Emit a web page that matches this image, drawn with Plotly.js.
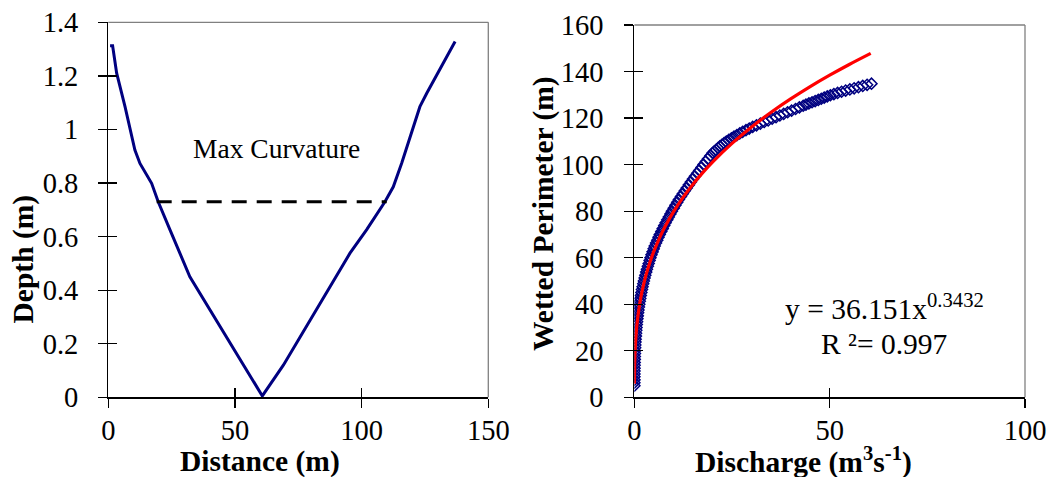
<!DOCTYPE html>
<html>
<head>
<meta charset="utf-8">
<script src="https://cdn.plot.ly/plotly-3.0.1.min.js"></script>
<style>
  html, body { margin: 0; padding: 0; background: #ffffff; }
  #chart { width: 1053px; height: 477px; }
</style>
</head>
<body>
<div id="chart"></div>
<script>
// ---- Left panel: channel cross-section ----
const distance = [0.7, 1.7, 3.3, 6.6, 10.5, 12.5, 17.1, 19.7, 24.4, 32.2, 60.8, 69.1, 95.4, 102.0, 109.2, 112.5, 115.8, 120.4, 123.0, 125.7, 136.9];
const depth    = [1.312, 1.312, 1.21, 1.085, 0.923, 0.873, 0.799, 0.730, 0.624, 0.450, 0.005, 0.120, 0.538, 0.626, 0.730, 0.786, 0.874, 1.010, 1.085, 1.135, 1.328];

const maxCurvatureDistance = [19.1, 109.9];
const maxCurvatureDepth = [0.73, 0.73];
const maxCurvatureLabel = "Max Curvature";

const leftXTicks = [0, 50, 100, 150];
const leftYTicks = [0, 0.2, 0.4, 0.6, 0.8, 1, 1.2, 1.4];
const leftYTickText = ["0", "0.2", "0.4", "0.6", "0.8", "1", "1.2", "1.4"];

// ---- Right panel: wetted perimeter vs discharge ----
const discharge = [
  0.003, 0.006, 0.01, 0.015, 0.022, 0.032, 0.043, 0.057, 0.073, 0.093,
  0.115, 0.141, 0.169, 0.203, 0.238, 0.281, 0.324, 0.376, 0.428, 0.49,
  0.55, 0.62, 0.69, 0.78, 0.86, 0.96, 1.05, 1.16, 1.27, 1.39,
  1.51, 1.65, 1.79, 1.94, 2.09, 2.26, 2.43, 2.62, 2.8, 3.01,
  3.21, 3.44, 3.66, 3.9, 4.12, 4.38, 4.65, 4.93, 5.2, 5.54,
  5.86, 6.18, 6.5, 6.89, 7.25, 7.64, 8.0, 8.42, 8.8, 9.22,
  9.6, 10.07, 10.5, 10.97, 11.4, 11.92, 12.4, 12.92, 13.4, 13.95,
  14.45, 15.0, 15.5, 16.07, 16.6, 17.17, 17.7, 18.3, 18.85, 19.45,
  20.0,
  20.47, 20.93, 21.40, 21.87, 22.40, 22.96, 23.52, 24.17, 24.84, 25.50,
  26.24, 26.97, 27.72, 28.56, 29.40, 30.28, 31.26, 32.24, 33.24, 34.25,
  35.27, 36.26, 37.24, 38.22, 39.23, 40.24, 41.26, 42.24, 43.22,
  43.92, 44.68, 45.48, 46.28, 47.08, 47.85, 48.60, 49.38, 50.18, 51.07,
  52.02, 53.03, 54.08, 55.16, 56.26, 57.36, 58.46, 59.58, 60.70
];
const wettedPerimeter = [
  5, 6.3, 7.5, 8.8, 10, 11.3, 12.5, 13.8, 15, 16.3,
  17.5, 18.8, 20, 21.3, 22.5, 23.8, 25, 26.3, 27.5, 28.8,
  30, 31.3, 32.5, 33.8, 35, 36.3, 37.5, 38.8, 40, 41.3,
  42.5, 43.8, 45, 46.3, 47.5, 48.8, 50, 51.3, 52.5, 53.8,
  55, 56.3, 57.5, 58.8, 60, 61.3, 62.5, 63.8, 65, 66.3,
  67.5, 68.8, 70, 71.3, 72.5, 73.8, 75, 76.3, 77.5, 78.8,
  80, 81.3, 82.5, 83.8, 85, 86.3, 87.5, 88.8, 90, 91.3,
  92.5, 93.8, 95, 96.3, 97.5, 98.8, 100, 101.3, 102.5, 103.8,
  105,
  105.7, 106.4, 107.1, 107.8, 108.5, 109.2, 109.9, 110.6, 111.3, 112.0,
  112.7, 113.4, 114.1, 114.8, 115.5, 116.2, 116.9, 117.6, 118.3, 119.0,
  119.7, 120.4, 121.1, 121.8, 122.5, 123.2, 123.9, 124.6, 125.3,
  125.8, 126.3, 126.8, 127.3, 127.8, 128.3, 128.8, 129.3, 129.8, 130.3,
  130.8, 131.3, 131.8, 132.3, 132.8, 133.3, 133.8, 134.3, 134.8
];

const fitDischarge = [0.005, 0.01, 0.02, 0.05, 0.1, 0.2, 0.35, 0.5, 0.75, 1, 1.5, 2, 3, 4, 5, 6.5, 8, 10, 12.5, 15, 17.5, 20, 25, 30, 35, 40, 45, 50, 55, 60.5];
const fitPerimeter = [5.87, 7.44, 9.44, 12.93, 16.40, 20.81, 25.22, 28.50, 32.75, 36.15, 41.55, 45.86, 52.71, 58.18, 62.81, 68.73, 73.81, 79.68, 86.02, 91.57, 96.55, 101.08, 109.11, 116.16, 122.48, 128.22, 133.52, 138.43, 143.03, 147.80];

const equationText = "y = 36.151x<sup>0.3432</sup>";
const r2Text = "R \u00B2= 0.997";

const rightXTicks = [0, 50, 100];
const rightYTicks = [0, 20, 40, 60, 80, 100, 120, 140, 160];

// ---- styling ----
const FONT = "Liberation Serif, Times New Roman, serif";
const NAVY = "#000080";
const TICKFONT = { family: FONT, size: 28.5, color: "#000000" };
const TITLEFONT = { family: FONT, size: 29.5, color: "#000000" };

function baseAxis(extra) {
  return Object.assign({
    showgrid: false, zeroline: false,
    showline: true, linecolor: "#000000", linewidth: 1.3,
    ticks: "outside", ticklen: 9, tickwidth: 1.3, tickcolor: "#000000",
    tickfont: TICKFONT, fixedrange: true
  }, extra);
}
function innerAxis(extra) {
  return Object.assign({
    showgrid: false, zeroline: false, showline: false,
    ticks: "inside", ticklen: 9, tickwidth: 1.3, tickcolor: "#000000",
    showticklabels: false, fixedrange: true
  }, extra);
}

const traces = [
  { x: distance, y: depth, xaxis: "x", yaxis: "y", type: "scatter", mode: "lines",
    line: { color: NAVY, width: 3 }, hoverinfo: "skip", showlegend: false },
  { x: maxCurvatureDistance, y: maxCurvatureDepth, xaxis: "x", yaxis: "y", type: "scatter", mode: "lines",
    line: { color: "#000000", width: 3, dash: "15px,10px" }, hoverinfo: "skip", showlegend: false },
  { x: discharge, y: wettedPerimeter, xaxis: "x2", yaxis: "y2", type: "scatter", mode: "markers",
    marker: { symbol: "diamond-open", size: 8.5, color: NAVY, line: { color: NAVY, width: 1.5 } },
    hoverinfo: "skip", showlegend: false },
  { x: fitDischarge, y: fitPerimeter, xaxis: "x2", yaxis: "y2", type: "scatter", mode: "lines",
    line: { color: "#ff0000", width: 3.2, shape: "spline" }, hoverinfo: "skip", showlegend: false },
  // carriers for the inside-tick overlay axes
  { x: [null], y: [null], xaxis: "x3", yaxis: "y3", type: "scatter", mode: "markers", hoverinfo: "skip", showlegend: false },
  { x: [null], y: [null], xaxis: "x4", yaxis: "y4", type: "scatter", mode: "markers", hoverinfo: "skip", showlegend: false }
];

const L = { x0: 108.3 / 1053, x1: 488.3 / 1053, y0: (477 - 397.3) / 477, y1: (477 - 22.3) / 477 };
const R = { x0: 634.4 / 1053, x1: 1025 / 1053, y0: (477 - 397.3) / 477, y1: (477 - 25) / 477 };

const layout = {
  width: 1053, height: 477,
  margin: { l: 0, r: 0, t: 0, b: 0 },
  paper_bgcolor: "#ffffff", plot_bgcolor: "#ffffff",
  showlegend: false,
  font: { family: FONT, color: "#000000" },
  xaxis: baseAxis({ domain: [L.x0, L.x1], range: [0, 150], anchor: "y", tickmode: "array", tickvals: leftXTicks, ticklabelstandoff: -2 }),
  yaxis: baseAxis({ domain: [L.y0, L.y1], range: [0, 1.4], anchor: "x", tickmode: "array", tickvals: leftYTicks, ticktext: leftYTickText, ticklabelstandoff: 14 }),
  xaxis2: baseAxis({ domain: [R.x0, R.x1], range: [0, 100], anchor: "y2", tickmode: "array", tickvals: rightXTicks, ticklabelstandoff: -2 }),
  yaxis2: baseAxis({ domain: [R.y0, R.y1], range: [0, 160], anchor: "x2", tickmode: "array", tickvals: rightYTicks, ticklabelstandoff: 15 }),
  xaxis3: innerAxis({ overlaying: "x", anchor: "y", range: [0, 150], tickmode: "array", tickvals: leftXTicks, side: "bottom" }),
  yaxis3: innerAxis({ overlaying: "y", anchor: "x", range: [0, 1.4], tickmode: "array", tickvals: leftYTicks, side: "left" }),
  xaxis4: innerAxis({ overlaying: "x2", anchor: "y2", range: [0, 100], tickmode: "array", tickvals: rightXTicks, side: "bottom" }),
  yaxis4: innerAxis({ overlaying: "y2", anchor: "x2", range: [0, 160], tickmode: "array", tickvals: rightYTicks, side: "left" }),
  shapes: [
    { type: "line", xref: "x domain", yref: "y domain", x0: 0, x1: 1, y0: 1, y1: 1, line: { color: "#808080", width: 1.3 } },
    { type: "line", xref: "x domain", yref: "y domain", x0: 1, x1: 1, y0: 0, y1: 1, line: { color: "#808080", width: 1.3 } },
    { type: "line", xref: "x2 domain", yref: "y2 domain", x0: 0, x1: 1, y0: 1, y1: 1, line: { color: "#808080", width: 1.3 } },
    { type: "line", xref: "x2 domain", yref: "y2 domain", x0: 1, x1: 1, y0: 0, y1: 1, line: { color: "#808080", width: 1.3 } }
  ],
  annotations: [
    { text: "<b>Depth (m)</b>", xref: "paper", yref: "paper", x: 22.5 / 1053, y: (477 - 259) / 477,
      xanchor: "center", yanchor: "middle", textangle: -90, showarrow: false, font: TITLEFONT },
    { text: "<b>Distance (m)</b>", xref: "paper", yref: "paper", x: 260 / 1053, y: (477 - 461.5) / 477,
      xanchor: "center", yanchor: "middle", showarrow: false, font: TITLEFONT },
    { text: "<b>Wetted Perimeter (m)</b>", xref: "paper", yref: "paper", x: 543 / 1053, y: (477 - 214) / 477,
      xanchor: "center", yanchor: "middle", textangle: -90, showarrow: false, font: TITLEFONT },
    { text: "<b>Discharge (m<sup>3</sup>s<sup>-1</sup>)</b>", xref: "paper", yref: "paper", x: 803.5 / 1053, y: (477 - 460) / 477,
      xanchor: "center", yanchor: "middle", showarrow: false, font: TITLEFONT },
    { text: maxCurvatureLabel, xref: "x", yref: "y", x: 66.4, y: 0.93,
      xanchor: "center", yanchor: "middle", showarrow: false, font: { family: FONT, size: 27.5, color: "#000000" } },
    { text: equationText, xref: "paper", yref: "paper", x: 884.5 / 1053, y: (477 - 307) / 477,
      xanchor: "center", yanchor: "middle", showarrow: false, font: { family: FONT, size: 29.5, color: "#000000" } },
    { text: r2Text, xref: "paper", yref: "paper", x: 884 / 1053, y: (477 - 344) / 477,
      xanchor: "center", yanchor: "middle", showarrow: false, font: { family: FONT, size: 29.5, color: "#000000" } }
  ]
};

Plotly.newPlot("chart", traces, layout, { staticPlot: true, displayModeBar: false });
</script>
</body>
</html>
